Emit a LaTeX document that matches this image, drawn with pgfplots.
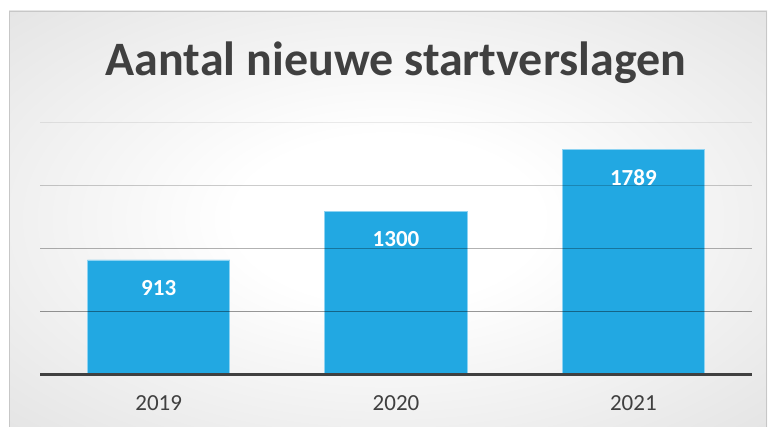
\documentclass[border=0pt]{standalone}
\usepackage{fontspec}
\setmainfont{Carlito}
\usepackage{pgfplots}
\pgfplotsset{compat=1.18}
\definecolor{barblue}{HTML}{22A8E2}
\definecolor{baredge}{HTML}{8ED3F2}
\definecolor{txtgray}{HTML}{404040}
\pgfdeclareradialshading{chartbg}{\pgfpoint{0bp}{0bp}}{color(0bp)=(white); color(10bp)=(white); color(72bp)=(black!25)}
\begin{document}
\begin{tikzpicture}[x=1pt,y=1pt]
\path[use as bounding box] (0,0) rectangle (770,427);
\fill[white] (0,0) rectangle (770,427);
\shade[shading=chartbg] (9,0) rectangle (767,416);
\draw[black!22, line width=1pt] (9.5,0) -- (9.5,415.5) -- (766.5,415.5) -- (766.5,0);
\node[anchor=base, font=\fontsize{48}{52}\selectfont\bfseries, text=txtgray, inner sep=0pt] at (396,351) {Aantal nieuwe startverslagen};
\begin{axis}[
  at={(40pt,52pt)}, anchor=south west,
  scale only axis, width=712pt, height=252pt,
  xmin=-0.5, xmax=2.5, ymin=0, ymax=2000,
  axis line style={draw=none},
  xtick={0,1,2}, xticklabels={2019,2020,2021},
  ytick=\empty,
  major tick length=0pt,
  xticklabel style={font=\fontsize{23}{26}\selectfont, text=txtgray, inner sep=0pt, anchor=north, yshift=-20pt},
  /pgf/number format/assume math mode=true,
  /pgf/number format/1000 sep={},
  ybar, bar width=0.6,
  clip=false,
  nodes near coords,
  nodes near coords style={font=\fontsize{23}{26}\selectfont\bfseries, text=white, anchor=north, inner sep=0pt, yshift=-20pt, /pgf/number format/1000 sep={}},
]
\addplot[fill=barblue, draw=baredge, line width=0.8pt] coordinates {(0,913) (1,1300) (2,1789)};
\draw[black, opacity=0.08, line width=1pt] (axis cs:-0.5,2000) -- (axis cs:2.5,2000);
\draw[black, opacity=0.2, line width=1pt] (axis cs:-0.5,1500) -- (axis cs:2.5,1500);
\draw[black, opacity=0.3, line width=1pt] (axis cs:-0.5,1000) -- (axis cs:2.5,1000);
\draw[black, opacity=0.4, line width=1pt] (axis cs:-0.5,500) -- (axis cs:2.5,500);
\draw[txtgray, line width=3pt] (axis cs:-0.5,0) -- (axis cs:2.5,0);
\end{axis}
\end{tikzpicture}
\end{document}
